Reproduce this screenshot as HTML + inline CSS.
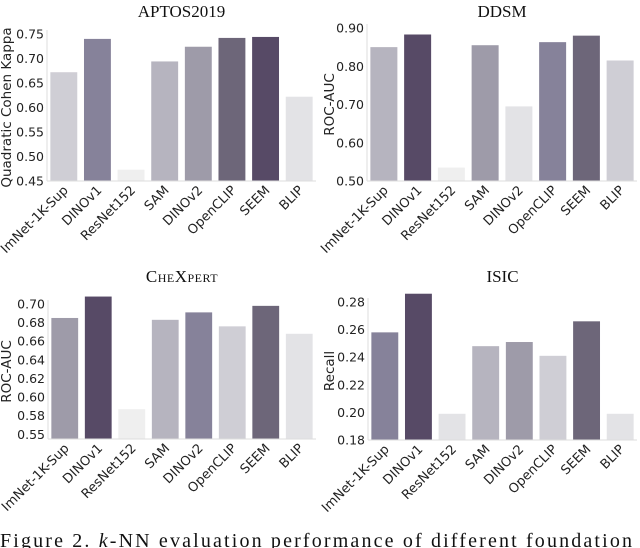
<!DOCTYPE html>
<html><head><meta charset="utf-8"><style>
body{margin:0;background:#fff;width:640px;height:548px;overflow:hidden}
svg{display:block}
</style></head><body>
<svg id="fig" width="640" height="548" xmlns="http://www.w3.org/2000/svg"></svg>
<script>
const categories=["ImNet-1K-Sup","DINOv1","ResNet152","SAM","DINOv2","OpenCLIP","SEEM","BLIP"];
const aptosValues=[0.672,0.740,0.473,0.694,0.724,0.742,0.744,0.622];
const ddsmValues=[0.850,0.883,0.535,0.855,0.695,0.863,0.880,0.815];
const chexValues=[0.685,0.708,0.587,0.683,0.691,0.676,0.698,0.668];
const isicValues=[0.258,0.286,0.199,0.248,0.251,0.241,0.266,0.199];
const aptosTicks=[0.45,0.50,0.55,0.60,0.65,0.70,0.75];
const ddsmTicks=[0.50,0.60,0.70,0.80,0.90];
const chexTicks=[0.56,0.58,0.60,0.62,0.64,0.66,0.68,0.70];
const chexTickLabels=["0.55","0.58","0.60","0.62","0.64","0.66","0.68","0.70"];
const isicTicks=[0.18,0.20,0.22,0.24,0.26,0.28];
const palette=["#574a66","#6d6679","#86829a","#9e9ba9","#b6b4bf","#cfced5","#e3e3e6","#efefef"];
const NS="http://www.w3.org/2000/svg";
const svg=document.getElementById('fig');
function mk(tag,attrs,parent){const e=document.createElementNS(NS,tag);for(const k in attrs)e.setAttribute(k,attrs[k]);(parent||svg).appendChild(e);return e;}
function panel(o){
  const g=mk('g',{});
  
  
  const ys=v=>o.y0-(v-o.vmin)/(o.vmax-o.vmin)*(o.y0-o.y1);
  const slot=(o.x1-o.x0)/categories.length;
  const t=mk('text',{x:(o.x0+o.x1)/2,y:o.titleY,'text-anchor':'middle','font-family':'Liberation Serif, serif','font-size':17,fill:'#111'},g);
  if(o.smallcaps){t.setAttribute('font-variant','small-caps');t.setAttribute('letter-spacing','0.5');}
  t.textContent=o.title;
  
  
  const sorted=o.values.slice().sort((a,b)=>b-a);
  o.values.forEach((v,i)=>{
    const r=mk('rect',{x:o.x0+slot*i+slot*0.1,y:ys(v),width:slot*0.8,height:o.y0-ys(v),fill:palette[sorted.indexOf(v)]},g);
    
    
    const cx=o.x0+slot*i+slot/2;
    const l=mk('text',{x:cx+5,y:o.y0+10,'text-anchor':'end','font-family':'DejaVu Sans, sans-serif','font-size':13,fill:'#222',transform:`rotate(-45 ${cx+5} ${o.y0+10})`},g);
    l.textContent=categories[i];
    
    
  });
  o.ticks.forEach((tv,i)=>{
    const tl=mk('text',{x:o.x0-3,y:ys(tv)+4.5,'text-anchor':'end','font-family':'DejaVu Sans, sans-serif','font-size':12.5,fill:'#222'},g);
    tl.textContent=o.tickLabels?o.tickLabels[i]:tv.toFixed(2);
    
    
  });
  mk('line',{x1:o.x0,y1:o.y1-4,x2:o.x0,y2:o.y0,stroke:'#ddd','stroke-width':1},g);
  mk('line',{x1:o.x0,y1:o.y0,x2:o.x1,y2:o.y0,stroke:'#ddd','stroke-width':1},g);
  const ay=(o.y0+o.y1)/2;
  const at=mk('text',{x:o.axX,y:ay,'text-anchor':'middle','font-family':'DejaVu Sans, sans-serif','font-size':13.5,fill:'#222',transform:`rotate(-90 ${o.axX} ${ay})`},g);
  at.textContent=o.yTitle;
  
  
}
panel({name:'aptos',title:'APTOS2019',titleY:17,values:aptosValues,ticks:aptosTicks,vmin:0.45,vmax:0.75,y0:181,y1:34,x0:47,x1:316,axX:11,yTitle:'Quadratic Cohen Kappa'});
panel({name:'ddsm',title:'DDSM',titleY:17,values:ddsmValues,ticks:ddsmTicks,vmin:0.50,vmax:0.90,y0:181,y1:28,x0:367,x1:637,axX:334,yTitle:'ROC-AUC'});
panel({name:'chexpert',title:'CheXpert',titleY:282,smallcaps:true,values:chexValues,ticks:chexTicks,tickLabels:chexTickLabels,vmin:0.555,vmax:0.70,y0:439,y1:304,x0:48,x1:316,axX:11,yTitle:'ROC-AUC'});
panel({name:'isic',title:'ISIC',titleY:282,values:isicValues,ticks:isicTicks,vmin:0.18,vmax:0.28,y0:440,y1:302,x0:368,x1:637,axX:334,yTitle:'Recall'});
const cap=mk('text',{x:0,y:547,'font-family':'Liberation Serif, serif','font-size':20,fill:'#111',textLength:632,lengthAdjust:'spacing'});
cap.innerHTML='Figure 2.  <tspan font-style="italic">k</tspan>-NN evaluation performance of different foundation';


</script>
</body></html>
